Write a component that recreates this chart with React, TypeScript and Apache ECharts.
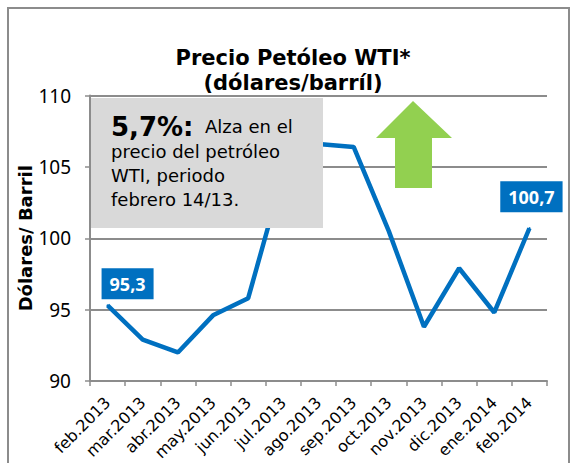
import React, { useEffect, useRef } from "react";
import * as echarts from "echarts";

const categories = [
  "feb.2013", "mar.2013", "abr.2013", "may.2013", "jun.2013", "jul.2013", "ago.2013",
  "sep.2013", "oct.2013", "nov.2013", "dic.2013", "ene.2014", "feb.2014",
];
const prices = [95.3, 92.9, 92.0, 94.6, 95.8, 104.6, 106.6, 106.4, 100.5, 93.8, 97.9, 94.8, 100.7];
const yTicks = [90, 95, 100, 105, 110];
const labelTexts = ["95,3", "100,7"];
const titleLines = ["Precio Petóleo WTI*", "(dólares/barríl)"];

const VERD = "'DejaVu Sans', Verdana, sans-serif";
const CAL = "'Noto Sans', 'Open Sans', sans-serif";

export default function App() {
  const ref = useRef<HTMLDivElement>(null);
  useEffect(() => {
    if (!ref.current) return;
    const chart = echarts.init(ref.current, undefined, { renderer: "svg" });
    const lastIdx = prices.length - 1;
    const data = prices.map((v, i) => {
      if (i === 0) {
        return {
          value: v,
          label: {
            show: true, formatter: labelTexts[0], position: "top", offset: [20, 0],
          },
        };
      }
      if (i === lastIdx) {
        return {
          value: v,
          label: {
            show: true, formatter: labelTexts[1], position: "top", offset: [2, -10],
          },
        };
      }
      return v;
    });
    chart.setOption({
      animation: false,
      backgroundColor: "#ffffff",
      title: {
        text: titleLines.join("\n"),
        left: 288,
        textAlign: "center",
        top: 40,
        textStyle: { fontFamily: VERD, fontWeight: "bold", fontSize: 21, lineHeight: 25, color: "#000" },
      },
      grid: { left: 90, right: 26, top: 95.5, bottom: 82, containLabel: false, outerBoundsMode: "none" },
      xAxis: {
        type: "category",
        data: categories,
        boundaryGap: true,
        axisLine: { lineStyle: { color: "#8c8c8c", width: 2 } },
        axisTick: { show: true, length: 5, alignWithLabel: false, lineStyle: { color: "#8c8c8c", width: 1.5 } },
        axisLabel: {
          rotate: 45, interval: 0, margin: 19, fontFamily: VERD, fontSize: 16, color: "#000",
        },
      },
      yAxis: {
        type: "value",
        min: yTicks[0],
        max: yTicks[yTicks.length - 1],
        interval: 5,
        name: "Dólares/ Barril",
        nameLocation: "middle",
        nameGap: 56,
        nameMoveOverlap: false,
        nameTextStyle: { fontFamily: VERD, fontWeight: "bold", fontSize: 18, color: "#000" },
        axisLine: { show: true, lineStyle: { color: "#8c8c8c", width: 2 } },
        axisTick: { show: true, length: 5, lineStyle: { color: "#8c8c8c", width: 1.5 } },
        axisLabel: { margin: 19, fontFamily: CAL, fontSize: 19, color: "#000" },
        splitLine: { lineStyle: { color: "#8c8c8c", width: 2 } },
      },
      series: [
        {
          type: "line",
          data,
          symbol: "circle",
          symbolSize: 2,
          showSymbol: true,
          itemStyle: { color: "#0070C0" },
          lineStyle: { color: "#0070C0", width: 4.5 },
          label: {
            show: false,
            backgroundColor: "#0070C0",
            color: "#ffffff",
            fontFamily: CAL,
            fontWeight: "bold",
            fontSize: 18,
            padding: [7, 8, 6, 8],
            distance: 5,
          },
          z: 2,
        },
      ],
      graphic: [
        {
          type: "rect",
          shape: { x: 8, y: 8, width: 561, height: 480 },
          style: { fill: "none", stroke: "#8c8c8c", lineWidth: 2 },
          silent: true,
          z: 0,
        },
        {
          type: "rect",
          shape: { x: 91, y: 98, width: 232, height: 130 },
          style: { fill: "#D9D9D9" },
          z: 10,
        },
        {
          type: "text",
          x: 111,
          y: 114,
          z: 11,
          style: {
            text: "{b|5,7%:}{n|  Alza en el}\n{n|precio del petróleo}\n{n|WTI, periodo}\n{n|febrero 14/13.}",
            rich: {
              b: { fontFamily: VERD, fontWeight: "bold", fontSize: 26, lineHeight: 25, fill: "#000" },
              n: { fontFamily: VERD, fontSize: 18, lineHeight: 24, fill: "#000" },
            },
            fill: "#000",
          },
        },
        {
          type: "polygon",
          shape: {
            points: [
              [413, 101], [452, 138], [432, 138], [432, 188], [395, 188], [395, 138], [376, 138],
            ],
          },
          style: { fill: "#92D050" },
          z: 10,
        },
      ],
    });
    return () => chart.dispose();
  }, []);
  return (
    <div
      ref={ref}
      style={{ position: "fixed", left: 0, top: 0, width: 573, height: 463 }}
    />
  );
}
